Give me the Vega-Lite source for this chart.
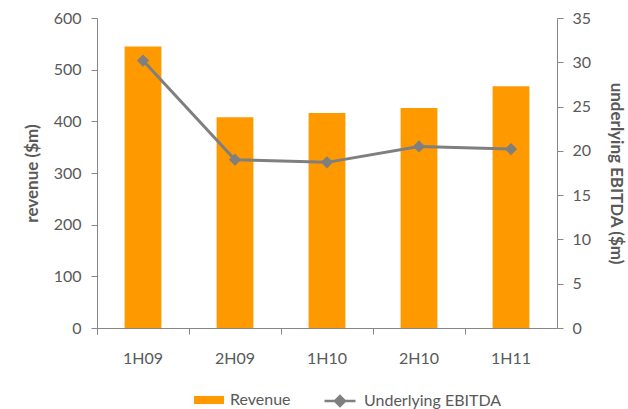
{
  "$schema": "https://vega.github.io/schema/vega-lite/v6.json",
  "width": 460,
  "height": 310,
  "autosize": {"type": "none"},
  "padding": {"left": 97, "top": 18, "right": 71, "bottom": 81},
  "background": "white",
  "config": {
    "view": {"stroke": null},
    "font": "Lato",
    "axis": {
      "grid": false,
      "domainColor": "#868686",
      "tickColor": "#868686",
      "domainWidth": 1,
      "tickWidth": 1,
      "labelFont": "Lato",
      "labelFontSize": 16,
      "labelColor": "#595959",
      "titleFont": "Lato",
      "titleFontSize": 17,
      "titleFontWeight": "bold",
      "titleColor": "#595959"
    },
    "legend": {
      "labelFont": "Lato",
      "labelFontSize": 16,
      "labelColor": "#595959",
      "title": null
    }
  },
  "data": {
    "values": [
      {"period": "1H09", "revenue": 545, "ebitda": 30.2},
      {"period": "2H09", "revenue": 408, "ebitda": 19.0},
      {"period": "1H10", "revenue": 416, "ebitda": 18.7},
      {"period": "2H10", "revenue": 426, "ebitda": 20.5},
      {"period": "1H11", "revenue": 468, "ebitda": 20.2}
    ]
  },
  "encoding": {
    "x": {
      "field": "period",
      "type": "nominal",
      "sort": null,
      "title": null,
      "scale": {"paddingInner": 0, "paddingOuter": 0},
      "axis": {
        "bandPosition": 0,
        "tickExtra": true,
        "tickSize": 6,
        "labelPadding": 16,
        "labelAngle": 0,
        "encode": {"ticks": {"update": {"y": {"value": -6}}}}
      }
    }
  },
  "layer": [
    {
      "mark": {"type": "bar", "width": {"band": 0.4}},
      "encoding": {
        "y": {
          "field": "revenue",
          "type": "quantitative",
          "title": "revenue ($m)",
          "scale": {"domain": [0, 600], "nice": false},
          "axis": {
            "orient": "left",
            "values": [0, 100, 200, 300, 400, 500, 600],
            "tickSize": 6,
            "labelPadding": 10,
            "titlePadding": 12,
            "encode": {"ticks": {"update": {"x": {"value": 6}}}}
          }
        },
        "fill": {
          "datum": "Revenue",
          "scale": {"range": ["#FF9900"]},
          "legend": {
            "orient": "none",
            "legendX": 97,
            "legendY": 367,
            "symbolType": "M-1,-0.27H1V0.27H-1Z",
            "symbolSize": 900,
            "symbolStrokeWidth": 0,
            "labelOffset": 6
          }
        }
      }
    },
    {
      "mark": {"type": "line", "strokeWidth": 3},
      "encoding": {
        "y": {
          "field": "ebitda",
          "type": "quantitative",
          "title": "underlying EBITDA ($m)",
          "scale": {"domain": [0, 35], "nice": false},
          "axis": {
            "orient": "right",
            "values": [0, 5, 10, 15, 20, 25, 30, 35],
            "tickSize": 6,
            "labelPadding": 9,
            "titlePadding": 16,
            "encode": {"ticks": {"update": {"x": {"value": -6}}}}
          }
        },
        "stroke": {
          "datum": "Underlying EBITDA",
          "scale": {"range": ["#7F7F7F"]},
          "legend": {
            "orient": "none",
            "legendX": 226,
            "legendY": 366,
            "symbolType": "M-1,0H1M0,-0.32L0.32,0L0,0.32L-0.32,0Z",
            "symbolSize": 961,
            "symbolStrokeWidth": 2.5,
            "symbolStrokeColor": "#7F7F7F",
            "symbolFillColor": "#7F7F7F",
            "labelOffset": 7,
            "encode": {
              "symbols": {
                "update": {
                  "fill": {"value": "#7F7F7F"},
                  "stroke": {"value": "#7F7F7F"},
                  "strokeWidth": {"value": 2.5},
                  "opacity": {"value": 1}
                }
              }
            }
          }
        }
      }
    },
    {
      "mark": {"type": "point", "shape": "diamond", "filled": true, "size": 150, "color": "#7F7F7F", "opacity": 1},
      "encoding": {
        "y": {"field": "ebitda", "type": "quantitative", "scale": {"domain": [0, 35], "nice": false}, "axis": null}
      }
    }
  ],
  "resolve": {"scale": {"y": "independent", "fill": "independent", "stroke": "independent"}}
}
